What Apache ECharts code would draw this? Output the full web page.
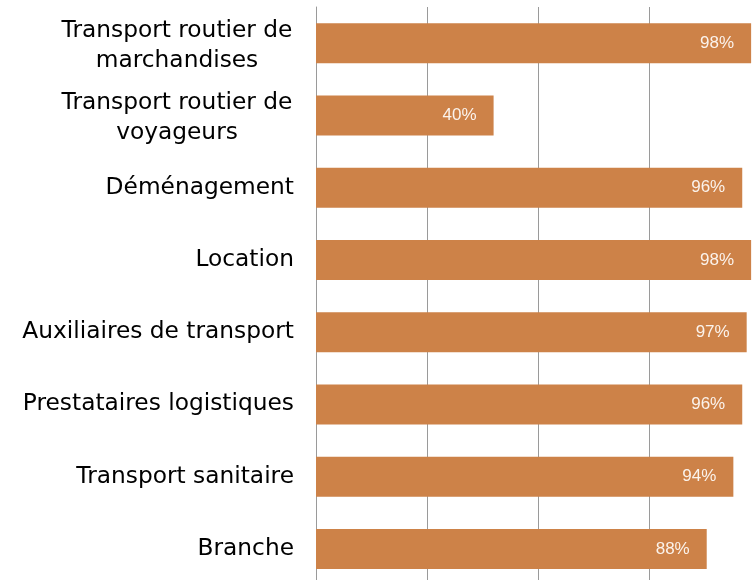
<!DOCTYPE html>
<html>
<head>
<meta charset="utf-8">
<script src="https://cdn.jsdelivr.net/npm/echarts@6/dist/echarts.min.js"></script>
<style>
  html, body { margin: 0; padding: 0; background: #fff; }
  #chart { width: 756px; height: 580px; }
</style>
</head>
<body>
<div id="chart"></div>
<script>
// catégories (de haut en bas) et taux
const categories = [
  'Transport routier de\nmarchandises',
  'Transport routier de\nvoyageurs',
  'Déménagement',
  'Location',
  'Auxiliaires de transport',
  'Prestataires logistiques',
  'Transport sanitaire',
  'Branche'
];
const values = [98, 40, 96, 98, 97, 96, 94, 88];
const xTicks = [0, 25, 50, 75, 100];

const chart = echarts.init(document.getElementById('chart'));

// libellés sur deux lignes : centrés entre eux, bloc aligné à droite
function catLabel(v) {
  if (v.indexOf('\n') < 0) return v;
  return v.split('\n').map(l => '{c|' + l + '}').join('\n');
}

const labelFont = {
  color: '#000',
  fontFamily: 'DejaVu Sans',
  fontSize: 23.3,
  lineHeight: 30
};

const option = {
  animation: false,
  grid: {
    left: 316, top: 7, width: 444, height: 578,
    containLabel: false,
    outerBoundsMode: 'none'
  },
  xAxis: {
    type: 'value',
    min: xTicks[0],
    max: xTicks[xTicks.length - 1],
    interval: 25,
    axisLabel: { show: false },
    axisLine: { show: false },
    axisTick: { show: false },
    splitLine: { show: true, lineStyle: { color: '#9a9a9a', width: 1 } }
  },
  yAxis: {
    type: 'category',
    inverse: true,
    data: categories,
    axisTick: { show: false },
    axisLine: { show: true, lineStyle: { color: '#9a9a9a', width: 1 } },
    axisLabel: Object.assign({
      margin: 22,
      align: 'right',
      formatter: catLabel,
      rich: {
        c: Object.assign({ width: 234, align: 'center', padding: [6, 0, 0, 0] }, labelFont)
      }
    }, labelFont)
  },
  series: [{
    type: 'bar',
    data: values,
    barWidth: 40,
    itemStyle: { color: '#cd8248' },
    label: {
      show: true,
      position: 'insideRight',
      distance: 17,
      color: '#fbf3ec',
      fontFamily: 'Liberation Sans',
      fontSize: 17,
      padding: [3, 0, 0, 0],
      formatter: p => p.value + '%'
    }
  }]
};

chart.setOption(option);
</script>
</body>
</html>
